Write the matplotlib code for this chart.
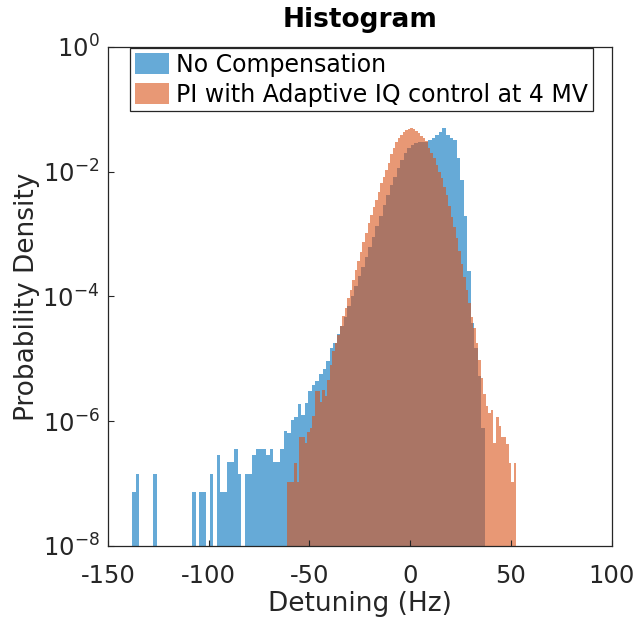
import numpy as np
import matplotlib
matplotlib.use("Agg")
import matplotlib.pyplot as plt
from matplotlib.patches import Patch

plt.rcParams['font.family'] = ['DejaVu Sans']
plt.rcParams['axes.unicode_minus'] = False
plt.rcParams['mathtext.fontset'] = 'dejavusans'

# ---------------- data ----------------
title = "Histogram"
x_label = "Detuning (Hz)"
y_label = "Probability Density"
series_names = ["No Compensation", "PI with Adaptive IQ control at 4 MV"]

# No Compensation: bin layout and log10(probability density) per bin (None = empty bin)
blue_start = -138.0
blue_width = 1.75
blue_log10 = [
    -7.14, -6.84, None, None, None, None, -6.84, None, None, None,
    None, None, None, None, None, None, None, -7.14, None, -7.14,
    -7.14, None, -6.84, None, -6.54, -7.14, -7.14, -6.66, -6.66, -6.44,
    -6.84, None, -6.84, -6.84, -6.54, -6.44, -6.44, -6.44, -6.54, -6.44,
    -6.66, -6.66, -6.44, -6.15, -6.19, -5.98, -5.93, -5.72, -5.90, -5.71,
    -5.51, -5.42, -5.36, -5.24, -5.17, -5.03, -4.83, -4.75, -4.60, -4.47,
    -4.33, -4.16, -4.00, -3.84, -3.68, -3.53, -3.37, -3.21, -3.04, -2.87,
    -2.71, -2.53, -2.37, -2.21, -2.08, -1.94, -1.81, -1.70, -1.62, -1.57,
    -1.54, -1.52, -1.52, -1.52, -1.49, -1.46, -1.41, -1.36, -1.30, -1.41,
    -1.46, -1.49, -1.78, -2.13, -2.71, -3.59, -4.42, -4.82, -5.28, -6.11,
]

# PI with Adaptive IQ control at 4 MV
orange_start = -61.2
orange_width = 1.25
orange_log10 = [
    -6.97, -6.97, -6.97, -6.67, -6.97, -6.25, -6.25, -6.35, -6.17, -6.11,
    -5.92, -5.52, -5.52, -5.69, -5.50, -5.60, -5.34,
    -5.10, -4.88, -4.75, -4.62, -4.48, -4.32, -4.19, -4.03, -3.89, -3.73,
    -3.57, -3.43, -3.28, -3.12, -2.99, -2.83, -2.69, -2.56, -2.45, -2.33,
    -2.18, -2.08, -1.97, -1.86, -1.72, -1.62, -1.53, -1.46, -1.42, -1.37,
    -1.33, -1.31, -1.30, -1.31, -1.35, -1.38, -1.43, -1.46, -1.51, -1.62,
    -1.70, -1.78, -1.89, -2.00, -2.10, -2.24, -2.37, -2.55, -2.72, -2.88,
    -3.06, -3.27, -3.48, -3.69, -3.89, -4.10, -4.33, -4.50, -4.74, -5.02,
    -5.30, -5.56, -5.75, -5.87, -5.82, -6.35, -5.93, -6.07, -6.25, -6.25,
    -6.36, -6.67, -6.97, -6.67,
]

x_ticks = [-150, -100, -50, 0, 50, 100]
y_ticks = [1e-8, 1e-6, 1e-4, 1e-2, 1e0]
y_tick_labels = [r"$\mathdefault{10^{-8}}$", r"$\mathdefault{10^{-6}}$",
                 r"$\mathdefault{10^{-4}}$", r"$\mathdefault{10^{-2}}$",
                 r"$\mathdefault{10^{0}}$"]

# ---------------- styling ----------------
c_blue = (0.0, 0.447, 0.741)
c_orange = (0.850, 0.325, 0.098)
face_alpha = 0.6
dark = (0.15, 0.15, 0.15)


def to_density(vals):
    return np.array([0.0 if v is None else 10.0 ** v for v in vals])


fig = plt.figure(figsize=(6.42, 6.20), dpi=100)
ax = fig.add_axes([0.168, 0.1194, 0.785, 0.805])

for start, width, vals, col in [(blue_start, blue_width, blue_log10, c_blue),
                                (orange_start, orange_width, orange_log10, c_orange)]:
    dens = to_density(vals)
    edges = start + width * np.arange(len(dens) + 1)
    plot_vals = np.where(dens > 0, dens, 1e-12)
    ax.stairs(plot_vals, edges, fill=True, baseline=1e-12,
              color=col, alpha=face_alpha, linewidth=0)

ax.set_yscale('log')
ax.set_xlim(-150, 100)
ax.set_ylim(1e-8, 1e0)
ax.set_xticks(x_ticks)
ax.set_xticklabels([str(t) for t in x_ticks])
ax.set_yticks(y_ticks)
ax.set_yticklabels(y_tick_labels)
ax.yaxis.set_minor_locator(matplotlib.ticker.NullLocator())
ax.tick_params(direction='in', length=4, width=0.8, colors=dark,
               labelsize=17.5, top=False, right=False)
ax.tick_params(axis='x', pad=13)
ax.tick_params(axis='y', pad=6)
for sp in ax.spines.values():
    sp.set_color(dark)
    sp.set_linewidth(0.9)

ax.set_xlabel(x_label, fontsize=19, color=dark, labelpad=2)
ax.set_ylabel(y_label, fontsize=19, color=dark, labelpad=2)
ax.set_title(title, fontsize=19, fontweight='bold', color='black', pad=14)

handles = [Patch(facecolor=c_blue, alpha=face_alpha, edgecolor='none'),
           Patch(facecolor=c_orange, alpha=face_alpha, edgecolor='none')]
leg = ax.legend(handles, series_names, loc='upper left',
                bbox_to_anchor=(130 / 642, 1 - 48 / 620),
                bbox_transform=fig.transFigure,
                fontsize=17, frameon=True, fancybox=False,
                edgecolor=dark, framealpha=1.0,
                handlelength=1.45, handleheight=1.0, handletextpad=0.3,
                labelspacing=0.25, borderpad=0.2, borderaxespad=0)
leg.get_frame().set_linewidth(0.9)
for t in leg.get_texts():
    t.set_color('black')

fig.savefig("out.png", dpi=100)
